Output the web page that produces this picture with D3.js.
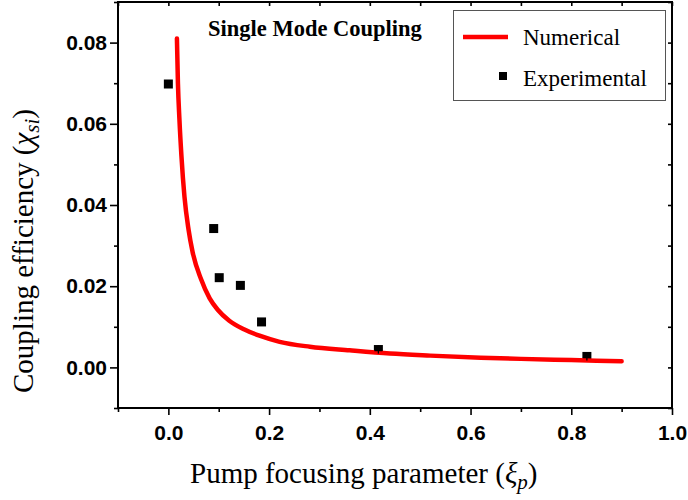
<!DOCTYPE html>
<html>
<head>
<meta charset="utf-8">
<script src="https://cdn.jsdelivr.net/npm/d3@7"></script>
<style>
  body { margin: 0; background: #fff; }
  svg { display: block; }
</style>
</head>
<body>
<div id="chart"></div>
<script>
// numerical curve
const numX = [0.017, 0.019, 0.022, 0.026, 0.032, 0.040, 0.048, 0.065, 0.082, 0.098, 0.121, 0.150, 0.181, 0.221, 0.281, 0.360, 0.440, 0.520, 0.620, 0.700, 0.800, 0.900];
const numY = [0.0810, 0.0700, 0.0610, 0.0520, 0.0420, 0.0340, 0.0285, 0.0217, 0.0170, 0.0142, 0.0115, 0.0094, 0.0078, 0.0063, 0.0051, 0.0042, 0.0034, 0.0029, 0.0024, 0.0021, 0.0018, 0.0015];

// experimental points
const expX = [0.000, 0.090, 0.101, 0.143, 0.185, 0.417, 0.831];
const expY = [0.0698, 0.0342, 0.0221, 0.0202, 0.0112, 0.0044, 0.0027];
const expErr = [0, 0, 0, 0, 0, 0.001, 0.001];

const xTicks = [0.0, 0.2, 0.4, 0.6, 0.8, 1.0];
const yTicks = [0.00, 0.02, 0.04, 0.06, 0.08];
const xMinor = [-0.1, 0.1, 0.3, 0.5, 0.7, 0.9];
const yMinor = [-0.01, 0.01, 0.03, 0.05, 0.07, 0.09];

const W = 688, H = 500;
const L = 118, R = 672, T = 2, B = 408;

const svg = d3.select("#chart")
  .append("svg")
  .attr("width", W)
  .attr("height", H);

const x = d3.scaleLinear().domain([-0.1, 1.0]).range([L, R]);
const y = d3.scaleLinear().domain([-0.01, 0.09]).range([B, T]);

const tickFont = "'Liberation Sans', Arial, sans-serif";
const serif = "'Liberation Serif', 'Times New Roman', serif";

function styleAxis(g) {
  g.select(".domain").remove();
  g.selectAll(".tick line").attr("stroke", "#000").attr("stroke-width", 1.6);
}

// bottom
svg.append("g")
  .attr("transform", `translate(0,${B})`)
  .call(d3.axisBottom(x).tickValues(xTicks).tickSize(7).tickPadding(10).tickFormat(d3.format(".1f")))
  .call(styleAxis)
  .call(g => g.selectAll("text").attr("font-family", tickFont).attr("font-weight", "bold").attr("font-size", 21).attr("fill", "#000"));
svg.append("g")
  .attr("transform", `translate(0,${B})`)
  .call(d3.axisBottom(x).tickValues(xMinor).tickSize(4).tickFormat(""))
  .call(styleAxis);

// left
svg.append("g")
  .attr("transform", `translate(${L},0)`)
  .call(d3.axisLeft(y).tickValues(yTicks).tickSize(8).tickPadding(3).tickFormat(d3.format(".2f")))
  .call(styleAxis)
  .call(g => g.selectAll("text").attr("font-family", tickFont).attr("font-weight", "bold").attr("font-size", 21).attr("fill", "#000"));
svg.append("g")
  .attr("transform", `translate(${L},0)`)
  .call(d3.axisLeft(y).tickValues(yMinor).tickSize(4).tickFormat(""))
  .call(styleAxis);

// top and right mirror ticks (inward)
svg.append("g")
  .attr("transform", `translate(0,${T})`)
  .call(d3.axisBottom(x).tickValues(xTicks.concat(xMinor)).tickSize(4).tickFormat(""))
  .call(styleAxis);
svg.append("g")
  .attr("transform", `translate(${R},0)`)
  .call(d3.axisLeft(y).tickValues(yTicks.concat(yMinor)).tickSize(4).tickFormat(""))
  .call(styleAxis);

// frame
svg.append("rect")
  .attr("x", L).attr("y", T)
  .attr("width", R - L).attr("height", B - T)
  .attr("fill", "none")
  .attr("stroke", "#000")
  .attr("stroke-width", 2);

// experimental squares
const expData = expX.map((d, i) => ({ x: d, y: expY[i], e: expErr[i] }));
svg.selectAll("rect.pt")
  .data(expData)
  .join("rect")
  .attr("class", "pt")
  .attr("x", d => x(d.x) - 4.5)
  .attr("y", d => y(d.y) - 4.5)
  .attr("width", 9)
  .attr("height", 9)
  .attr("fill", "#000");

// numerical curve
const numData = numX.map((d, i) => ({ x: d, y: numY[i] }));
svg.append("path")
  .datum(numData)
  .attr("fill", "none")
  .attr("stroke", "#ff0000")
  .attr("stroke-width", 4.5)
  .attr("stroke-linecap", "round")
  .attr("d", d3.line().x(d => x(d.x)).y(d => y(d.y)).curve(d3.curveMonotoneX));

// small error bars
const errG = svg.selectAll("g.err")
  .data(expData.filter(d => d.e > 0))
  .join("g")
  .attr("class", "err")
  .attr("stroke", "#000")
  .attr("stroke-width", 1.3);
errG.append("line")
  .attr("x1", d => x(d.x)).attr("x2", d => x(d.x))
  .attr("y1", d => y(d.y + d.e)).attr("y2", d => y(d.y - d.e));
errG.append("line")
  .attr("x1", d => x(d.x) - 4).attr("x2", d => x(d.x) + 4)
  .attr("y1", d => y(d.y - d.e) - 3).attr("y2", d => y(d.y - d.e) - 3);

// title
svg.append("text")
  .attr("x", 208)
  .attr("y", 36)
  .attr("font-family", serif)
  .attr("font-weight", "bold")
  .attr("font-size", 22.5)
  .text("Single Mode Coupling");

// legend
svg.append("rect")
  .attr("x", 453.5).attr("y", 10.5)
  .attr("width", 212).attr("height", 90)
  .attr("fill", "#fff")
  .attr("stroke", "#555")
  .attr("stroke-width", 1);
svg.append("line")
  .attr("x1", 463).attr("x2", 508)
  .attr("y1", 37).attr("y2", 37)
  .attr("stroke", "#ff0000")
  .attr("stroke-width", 4.5);
svg.append("rect")
  .attr("x", 499).attr("y", 72)
  .attr("width", 8).attr("height", 8)
  .attr("fill", "#000");
svg.append("text")
  .attr("x", 523).attr("y", 45)
  .attr("font-family", serif).attr("font-size", 23)
  .text("Numerical");
svg.append("text")
  .attr("x", 523).attr("y", 86)
  .attr("font-family", serif).attr("font-size", 23)
  .text("Experimental");

// axis labels
const xl = svg.append("text")
  .attr("x", 190).attr("y", 483)
  .attr("font-family", serif).attr("font-size", 29);
xl.append("tspan").text("Pump focusing parameter (");
xl.append("tspan").attr("font-style", "italic").text("ξ");
xl.append("tspan").attr("font-style", "italic").attr("font-size", 21).attr("dy", 6).text("p");
xl.append("tspan").attr("dy", -6).text(")");

const yl = svg.append("text")
  .attr("transform", "translate(33,393) rotate(-90)")
  .attr("font-family", serif).attr("font-size", 29);
yl.append("tspan").text("Coupling efficiency (");
yl.append("tspan").attr("font-style", "italic").text("χ");
yl.append("tspan").attr("font-style", "italic").attr("font-size", 21).attr("dy", 6).text("si");
yl.append("tspan").attr("dy", -6).text(")");
</script>
</body>
</html>
